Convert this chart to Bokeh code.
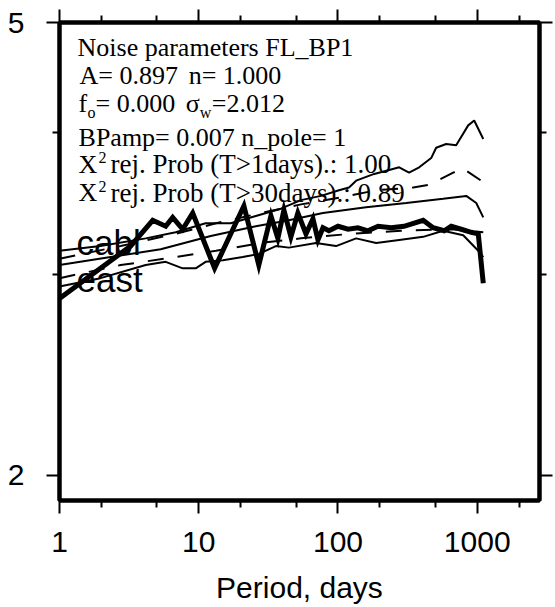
from bokeh.plotting import figure
from bokeh.models import FixedTicker, LogAxis, Label, CustomJSTickFormatter, Range1d, NumeralTickFormatter
from bokeh.embed import file_html
from bokeh.resources import INLINE

# ---------------- data ----------------
x_ticks = [1, 10, 100, 1000]
x_minor = [2, 5, 20, 50, 200, 500, 2000]
y_ticks = [2, 5]
y_minor = [3, 4]

# thick: observed spectrum
obs_period = [1.00, 1.97, 3.24, 4.67, 5.79, 6.50, 7.67, 9.05, 13.0, 21.1, 27.0, 33.0, 37.0, 40.9,
              45.9, 51.5, 58.9, 66.1, 71.8, 78.0, 86.1, 100, 118, 139, 164, 194, 241, 298, 409,
              482, 579, 650, 767, 906, 1017, 1105]
obs_value = [2.86, 3.04, 3.18, 3.35, 3.31, 3.37, 3.29, 3.40, 3.04, 3.45, 3.06, 3.38, 3.23, 3.42,
             3.24, 3.40, 3.26, 3.36, 3.22, 3.30, 3.28, 3.31, 3.29, 3.30, 3.28, 3.31, 3.30, 3.31, 3.35,
             3.30, 3.28, 3.31, 3.29, 3.27, 3.26, 2.95]

# thin upper (jagged)
up_period = [1.00, 1.97, 4.16, 6.83, 11.2, 17.0, 25.7, 38.9, 54.2, 75.5, 101.7, 120, 135, 182,
             233, 275, 324, 383, 467, 507, 598, 706, 861, 951, 1105]
up_value = [3.15, 3.18, 3.23, 3.27, 3.33, 3.33, 3.38, 3.43, 3.49, 3.52, 3.56, 3.58, 3.63, 3.68,
            3.71, 3.73, 3.69, 3.73, 3.80, 3.88, 3.91, 3.90, 4.06, 4.10, 3.95]

# dashed upper
d1_period = [1.00, 2.75, 6.83, 13.3, 27.9, 54.2, 105.1, 188, 347, 452, 672, 793, 1105]
d1_value = [3.10, 3.18, 3.26, 3.33, 3.40, 3.46, 3.51, 3.56, 3.58, 3.60, 3.69, 3.72, 3.62]

# thin smooth model
mod_period = [1.00, 2.33, 5.33, 12.2, 25.7, 44.4, 78.0, 159, 309, 569, 834, 984, 1105]
mod_value = [3.06, 3.11, 3.16, 3.245, 3.31, 3.35, 3.40, 3.44, 3.47, 3.50, 3.52, 3.47, 3.37]

# dashed lower
d2_period = [1.00, 2.75, 6.83, 13.3, 27.9, 54.2, 124, 284, 650, 1105]
d2_value = [2.98, 3.06, 3.11, 3.15, 3.20, 3.23, 3.26, 3.28, 3.29, 3.27]

# thin lower (jagged)
lo_period = [1.00, 1.97, 4.16, 5.79, 7.67, 9.51, 11.2, 14.9, 20.7, 27.0, 35.8, 44.4, 69.5, 96.8,
             135, 188, 275, 409, 569, 793, 1017, 1105]
lo_value = [2.93, 2.98, 3.06, 3.08, 3.04, 3.04, 3.08, 3.09, 3.11, 3.13, 3.18, 3.17, 3.20, 3.18,
            3.23, 3.20, 3.22, 3.24, 3.28, 3.25, 3.15, 3.11]

SERIF = "Liberation Serif"
SANS = "Liberation Sans"

p = figure(width=555, height=607, x_axis_type="log", y_axis_type="log",
           x_range=Range1d(1, 2800), y_range=Range1d(1.9, 5),
           output_backend="svg", toolbar_location=None,
           min_border_left=59, min_border_right=16, min_border_top=22, min_border_bottom=107)
p.xgrid.visible = False
p.ygrid.visible = False
p.outline_line_color = "black"
p.outline_line_width = 4
p.background_fill_color = "white"
p.border_fill_color = "white"


def style_axis(ax, ticker, labels=True):
    ax.ticker = ticker
    ax.axis_line_width = 4
    ax.axis_line_color = "black"
    ax.major_tick_in = 0
    ax.major_tick_out = 13
    ax.minor_tick_in = 0
    ax.minor_tick_out = 7
    ax.major_tick_line_width = 2
    ax.minor_tick_line_width = 2
    ax.major_tick_line_color = "black"
    ax.minor_tick_line_color = "black"
    if labels:
        ax.formatter = NumeralTickFormatter(format="0")
        ax.major_label_text_font = SANS
        ax.major_label_text_font_size = "30px"
        ax.major_label_text_color = "black"
    else:
        ax.formatter = CustomJSTickFormatter(code="return ''")


xt = FixedTicker(ticks=x_ticks, minor_ticks=x_minor)
yt = FixedTicker(ticks=y_ticks, minor_ticks=y_minor)
style_axis(p.xaxis[0], xt)
style_axis(p.yaxis[0], yt)
p.xaxis[0].major_label_standoff = 18
p.yaxis[0].major_label_standoff = 22
p.xaxis[0].axis_label = "Period, days"
p.xaxis[0].axis_label_text_font = SANS
p.xaxis[0].axis_label_text_font_size = "30px"
p.xaxis[0].axis_label_text_font_style = "normal"
p.xaxis[0].axis_label_text_color = "black"
p.xaxis[0].axis_label_standoff = 16

top = LogAxis()
style_axis(top, FixedTicker(ticks=x_ticks, minor_ticks=x_minor), labels=False)
p.add_layout(top, "above")
right = LogAxis()
style_axis(right, FixedTicker(ticks=y_ticks, minor_ticks=y_minor), labels=False)
p.add_layout(right, "right")

# lines
p.line(up_period, up_value, line_color="black", line_width=2)
p.line(d1_period, d1_value, line_color="black", line_width=2, line_dash="16 14")
p.line(mod_period, mod_value, line_color="black", line_width=2)
p.line(d2_period, d2_value, line_color="black", line_width=2, line_dash="16 14")
p.line(lo_period, lo_value, line_color="black", line_width=2)
p.line(obs_period, obs_value, line_color="black", line_width=5, line_join="miter")

# text annotations (data coordinates)
segments = [
    ("Noise parameters FL_BP1", 1.347, 4.753, 26),
    ("A= 0.897", 1.393, 4.491, 26), ("n= 1.000", 8.47, 4.491, 26),
    ("f", 1.370, 4.244, 26), ("o", 1.590, 4.166, 16), ("= 0.000", 1.816, 4.244, 26),
    ("σ", 8.06, 4.244, 26), ("w", 10.17, 4.166, 16), ("=2.012", 12.41, 4.244, 26),
    ("BPamp= 0.007 n_pole= 1", 1.370, 3.961, 26),
    ("X", 1.370, 3.751, 26), ("2", 1.908, 3.802, 16), ("rej. Prob (T>1days).: 1.00", 2.328, 3.751, 27),
    ("X", 1.370, 3.544, 26), ("2", 1.908, 3.591, 16), ("rej. Prob (T>30days).: 0.89", 2.328, 3.544, 27),
]
for txt, tx, ty, fs in segments:
    p.add_layout(Label(x=tx, y=ty, text=txt, text_font=SERIF, text_font_size=f"{fs}px",
                       text_color="black", text_baseline="alphabetic", text_align="left"))

for txt, tx, ty in [("cabl", 1.325, 3.201), ("east", 1.325, 2.971)]:
    p.add_layout(Label(x=tx, y=ty, text=txt, text_font=SANS, text_font_size="35px",
                       text_color="black", text_baseline="alphabetic", text_align="left"))

open("out.html", "w").write(file_html(p, INLINE))
